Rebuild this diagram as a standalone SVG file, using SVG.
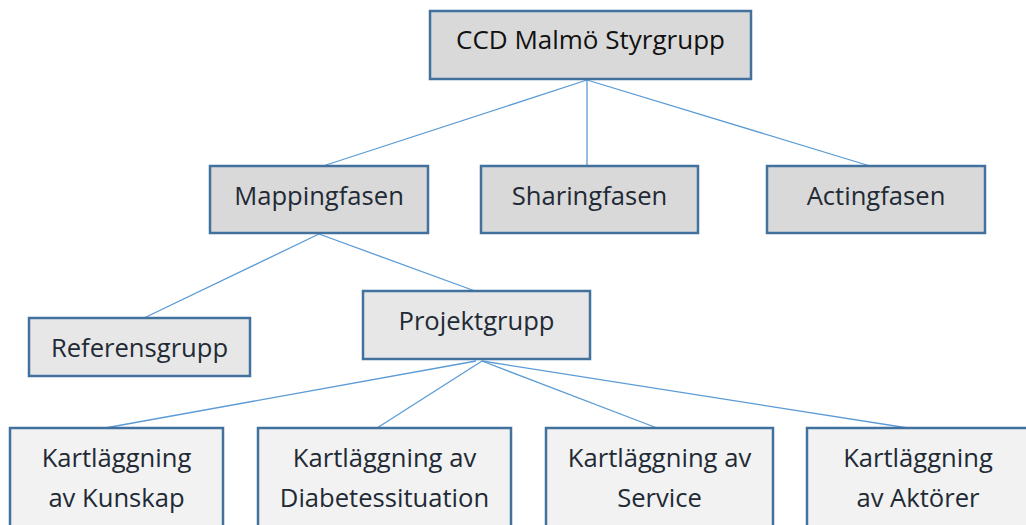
<svg xmlns="http://www.w3.org/2000/svg" width="1026" height="525" viewBox="0 0 1026 525">
<style>
.box{stroke:#41719c;stroke-width:2.5}
.l1{fill:#d9d9d9}
.l2{fill:#e7e7e7}
.l3{fill:#f2f2f2}
.t{font-family:"Open Sans","Noto Sans",sans-serif;font-size:25.6px;fill:#222a35;text-anchor:middle}
.conn line{stroke:#5b9bd5;stroke-width:1.3}
</style>
<rect width="1026" height="525" fill="#ffffff"/>
<g class="conn" id="connectors">
<line x1="587" y1="80" x2="323" y2="166"/>
<line x1="587" y1="80" x2="587" y2="166"/>
<line x1="587" y1="80" x2="870" y2="166"/>
<line x1="319" y1="234" x2="144" y2="318"/>
<line x1="319" y1="234" x2="475" y2="291"/>
<line x1="476" y1="361" x2="105" y2="428"/>
<line x1="482" y1="361" x2="377" y2="428"/>
<line x1="482" y1="361" x2="657" y2="428"/>
<line x1="482" y1="361" x2="908" y2="428"/>
</g>
<g id="styrgrupp"><rect class="box l1" x="430" y="11" width="321" height="68"/><text class="t" x="590.5" y="49" style="fill:#111;font-size:26px">CCD Malmö Styrgrupp</text></g>
<g id="mappingfasen"><rect class="box l1" x="210" y="166" width="218" height="67"/><text class="t" x="319" y="205">Mappingfasen</text></g>
<g id="sharingfasen"><rect class="box l1" x="481" y="166" width="217" height="67"/><text class="t" x="589.5" y="205">Sharingfasen</text></g>
<g id="actingfasen"><rect class="box l1" x="767" y="166" width="218" height="67"/><text class="t" x="876" y="205">Actingfasen</text></g>
<g id="referensgrupp"><rect class="box l2" x="29" y="318" width="221" height="58"/><text class="t" x="139.5" y="357">Referensgrupp</text></g>
<g id="projektgrupp"><rect class="box l2" x="363" y="291" width="227" height="68"/><text class="t" x="476.5" y="330">Projektgrupp</text></g>
<g id="kunskap"><rect class="box l3" x="10" y="428" width="213" height="110"/><text class="t" x="116.5" y="467">Kartläggning</text><text class="t" x="116.5" y="507">av Kunskap</text></g>
<g id="diabetes"><rect class="box l3" x="258" y="428" width="253" height="110"/><text class="t" x="384.5" y="467">Kartläggning av</text><text class="t" x="384.5" y="507">Diabetessituation</text></g>
<g id="service"><rect class="box l3" x="546" y="428" width="227" height="110"/><text class="t" x="659.5" y="467">Kartläggning av</text><text class="t" x="659.5" y="507">Service</text></g>
<g id="aktorer"><rect class="box l3" x="807" y="428" width="222" height="110"/><text class="t" x="918" y="467">Kartläggning</text><text class="t" x="918" y="507">av Aktörer</text></g>
</svg>
